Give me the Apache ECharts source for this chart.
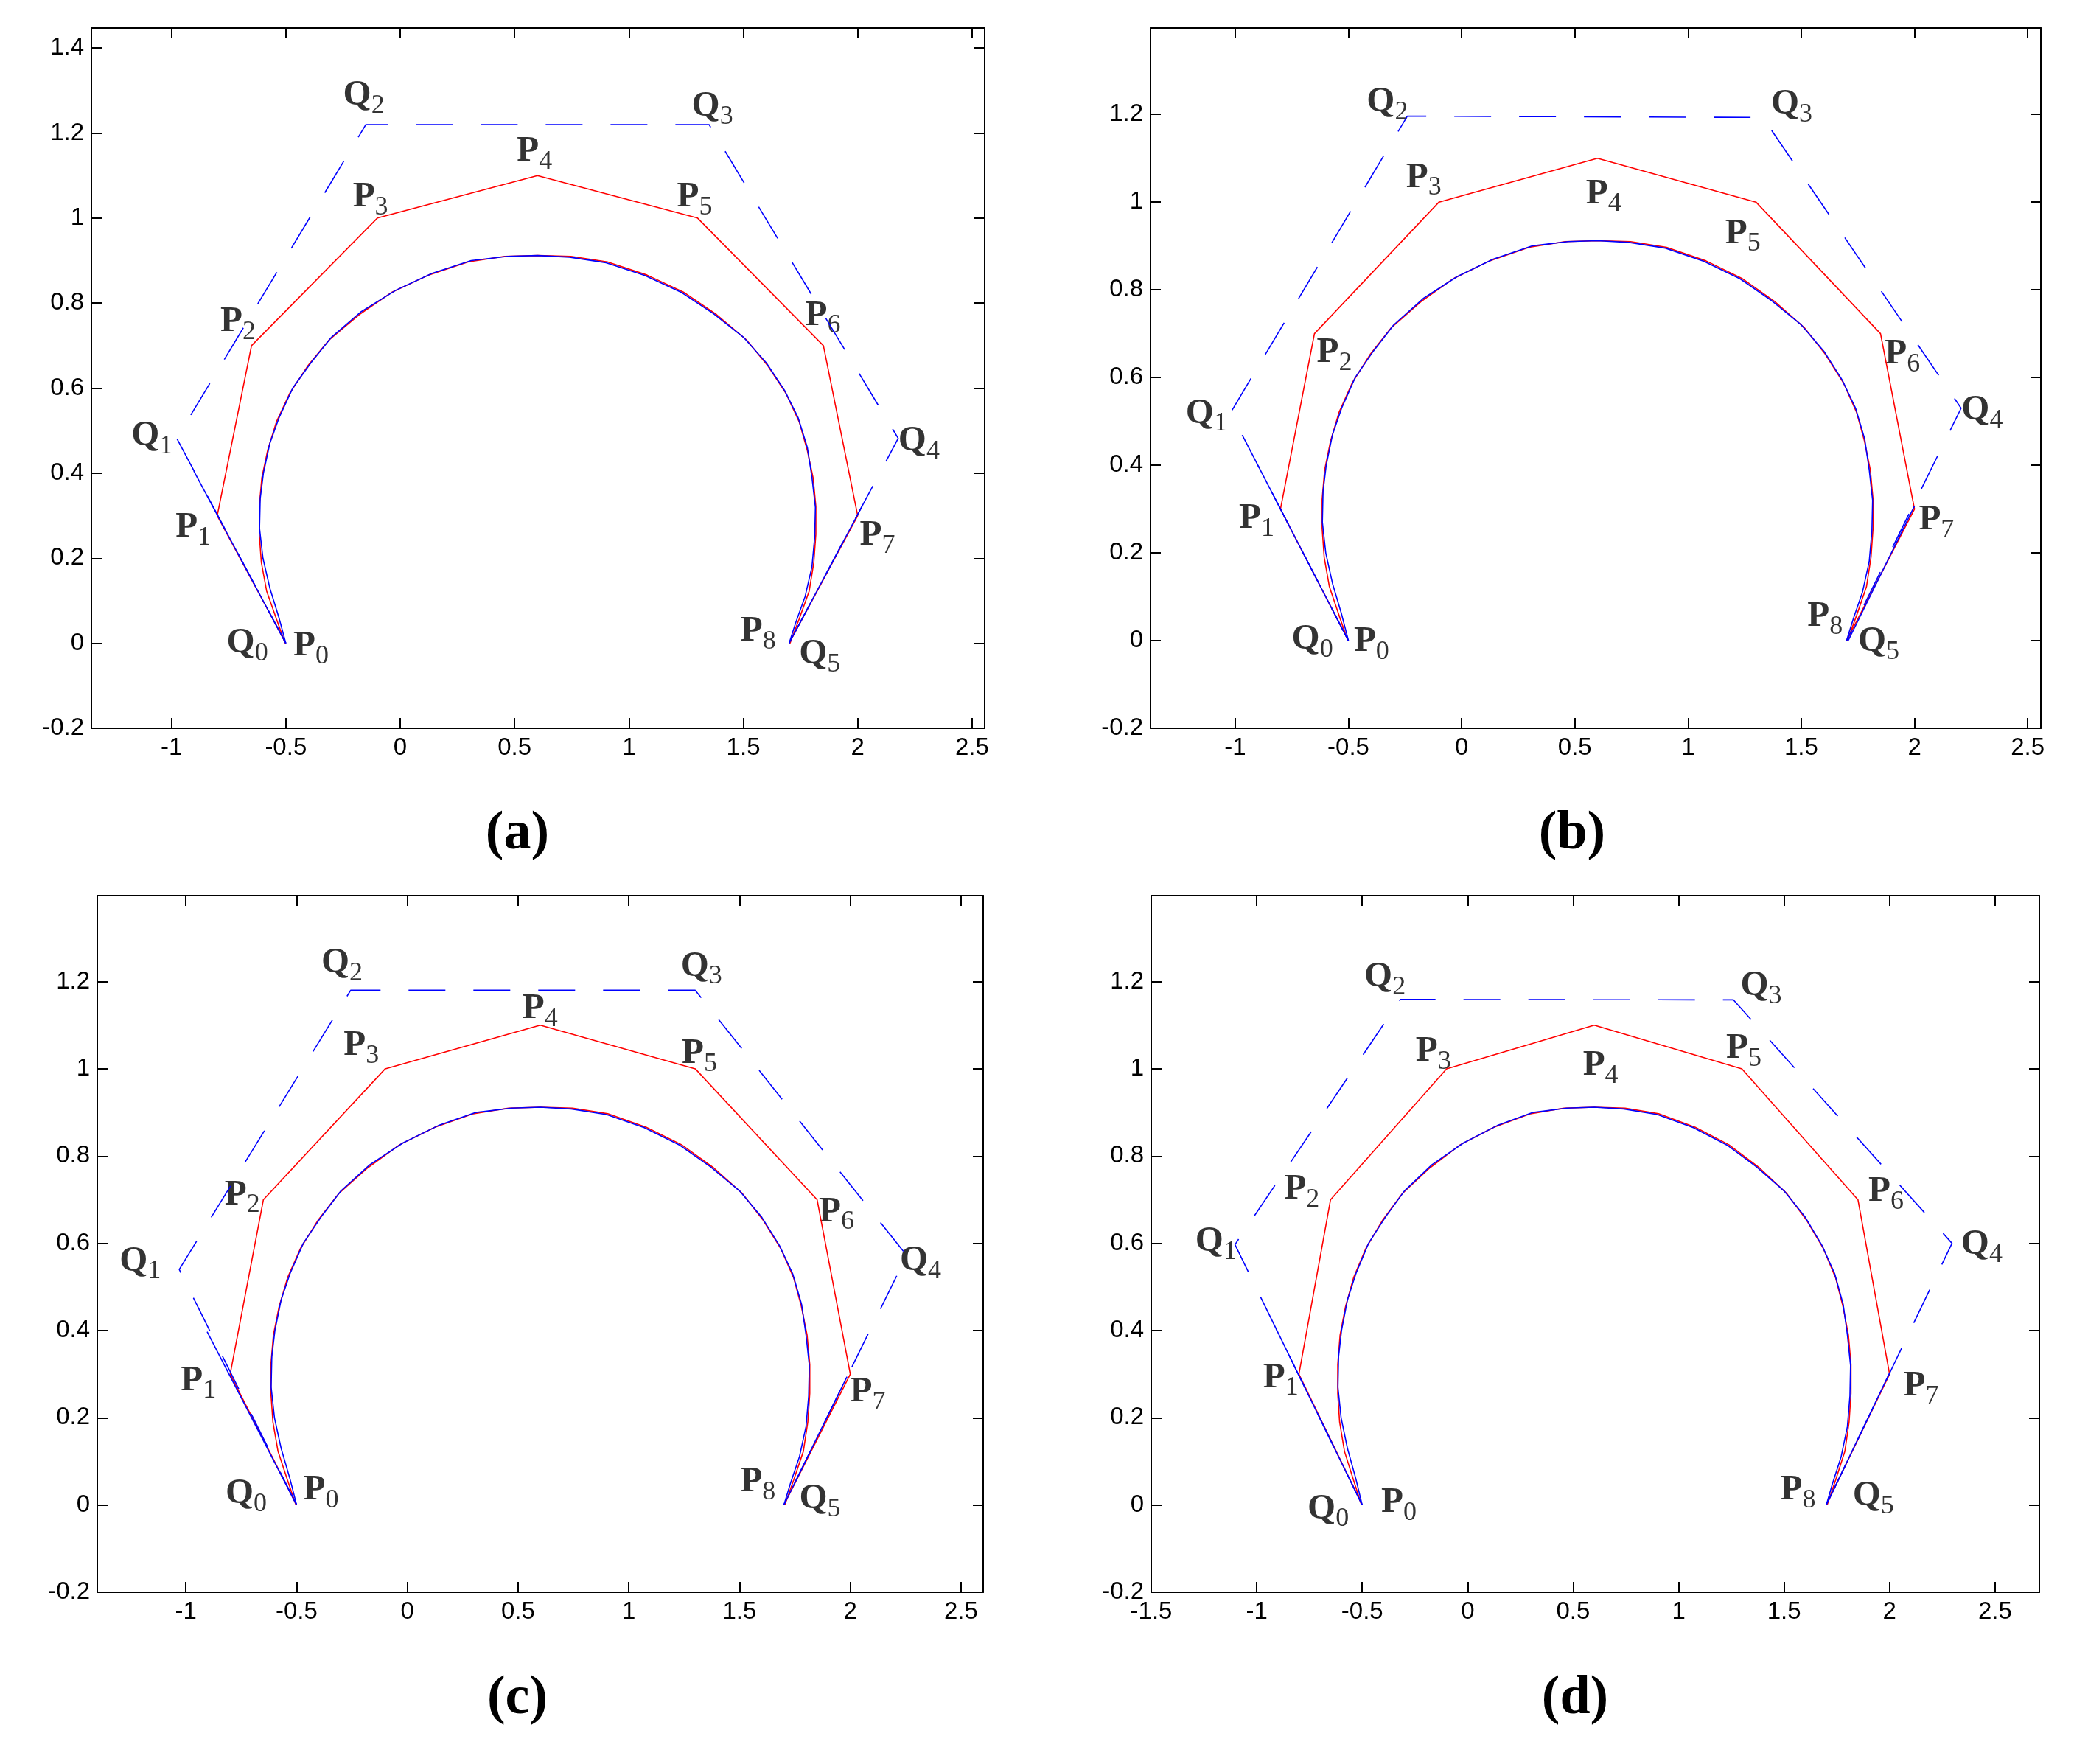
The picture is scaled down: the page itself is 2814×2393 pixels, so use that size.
<!DOCTYPE html>
<html>
<head>
<meta charset="utf-8">
<script src="https://cdn.jsdelivr.net/npm/echarts@6/dist/echarts.min.js"></script>
<style>
  html, body { margin: 0; padding: 0; background: #fff; }
  #chart { width: 2814px; height: 2393px; }
</style>
</head>
<body>
<div id="chart"></div>
<script>
// control polygon P0..P8 (same in all four panels)
const pX = [-0.5, -0.8, -0.65, -0.1, 0.6, 1.3, 1.85, 2.0, 1.7];
const pY = [0, 0.3, 0.7, 1.0, 1.1, 1.0, 0.7, 0.3, 0];

// control polygon Q0..Q5, one per panel
const qXA = [-0.5, -0.977, -0.15, 1.35, 2.177, 1.7];
const qYA = [0, 0.482, 1.22, 1.22, 0.482, 0];
const qXB = [-0.5, -1.02, -0.24, 1.33, 2.206, 1.7];
const qYB = [0, 0.52, 1.196, 1.193, 0.53, 0];
const qXC = [-0.5, -1.03, -0.256, 1.30, 2.255, 1.7];
const qYC = [0, 0.54, 1.18, 1.18, 0.572, 0];
const qXD = [-0.5, -1.103, -0.319, 1.26, 2.296, 1.7];
const qYD = [0, 0.597, 1.159, 1.158, 0.60, 0];

// solid blue pieces at both ends of the Q polygon
const leadXA = [-0.5, -0.902], leadYA = [0, 0.405], tailXA = [1.7, 2.019], tailYA = [0, 0.322];
const leadXB = [-0.5, -0.899], leadYB = [0, 0.399], tailXB = [1.707, 2.0], tailYB = [0, 0.307];
const leadXC = [-0.5, -0.904], leadYC = [0, 0.397], tailXC = [1.7, 1.985], tailYC = [0, 0.294];
const leadXD = [-0.5, -0.908], leadYD = [0, 0.404], tailXD = [1.7, 1.998], tailYD = [0, 0.301];

// the two curves (red and blue), nearly on top of each other
const redCurveX = [-0.503, -0.541, -0.584, -0.607, -0.616, -0.616, -0.605, -0.579, -0.541, -0.483, -0.402, -0.310,
  -0.179, -0.035, 0.124, 0.298, 0.457, 0.602, 0.746, 0.905, 1.079, 1.238, 1.383, 1.513, 1.605, 1.686, 1.744,
  1.779, 1.805, 1.817, 1.817, 1.808, 1.788, 1.744, 1.704];
const redCurveY = [0, 0.057, 0.123, 0.190, 0.256, 0.322, 0.389, 0.455, 0.521, 0.588, 0.654, 0.714,
  0.773, 0.826, 0.866, 0.897, 0.910, 0.912, 0.910, 0.897, 0.866, 0.826, 0.773, 0.714, 0.654, 0.588, 0.521,
  0.455, 0.389, 0.322, 0.256, 0.190, 0.123, 0.057, 0];
const blueCurveX = [-0.5, -0.53, -0.57, -0.60, -0.615, -0.612, -0.598, -0.57, -0.53, -0.47, -0.39, -0.30,
  -0.17, -0.02, 0.14, 0.31, 0.47, 0.60, 0.74, 0.90, 1.07, 1.23, 1.37, 1.50, 1.60, 1.68, 1.74,
  1.78, 1.80, 1.815, 1.812, 1.80, 1.77, 1.73, 1.7];
const blueCurveY = [0, 0.06, 0.13, 0.20, 0.27, 0.34, 0.40, 0.47, 0.53, 0.60, 0.66, 0.72,
  0.78, 0.83, 0.87, 0.90, 0.91, 0.912, 0.908, 0.895, 0.865, 0.825, 0.775, 0.72, 0.66, 0.595, 0.53,
  0.46, 0.39, 0.32, 0.25, 0.18, 0.11, 0.05, 0];

// tick values
const xTicks = [-1, -0.5, 0, 0.5, 1, 1.5, 2, 2.5];
const xTicksD = [-1.5, -1, -0.5, 0, 0.5, 1, 1.5, 2, 2.5];
const yTicksA = [-0.2, 0, 0.2, 0.4, 0.6, 0.8, 1, 1.2, 1.4];
const yTicks = [-0.2, 0, 0.2, 0.4, 0.6, 0.8, 1, 1.2];

// label subscripts and where each label sits (data coords)
const pNames = ['0', '1', '2', '3', '4', '5', '6', '7', '8'];
const qNames = ['0', '1', '2', '3', '4', '5'];
const pLabA = [[-0.39, -0.007], [-0.905, 0.273], [-0.709, 0.756], [-0.13, 1.049], [0.587, 1.157], [1.287, 1.049], [1.848, 0.771], [2.086, 0.253], [1.565, 0.028]];
const qLabA = [[-0.668, 0], [-1.085, 0.488], [-0.159, 1.289], [1.365, 1.263], [2.268, 0.475], [1.834, -0.025]];
const pLabB = [[-0.398, -0.003], [-0.905, 0.278], [-0.562, 0.656], [-0.167, 1.056], [0.627, 1.019], [1.242, 0.928], [1.947, 0.653], [2.097, 0.275], [1.605, 0.055]];
const qLabB = [[-0.659, 0.003], [-1.127, 0.518], [-0.328, 1.228], [1.458, 1.223], [2.299, 0.525], [1.842, -0.003]];
const pLabC = [[-0.39, 0.034], [-0.943, 0.285], [-0.745, 0.711], [-0.208, 1.053], [0.599, 1.138], [1.319, 1.035], [1.938, 0.672], [2.079, 0.259], [1.583, 0.053]];
const qLabC = [[-0.728, 0.026], [-1.206, 0.559], [-0.295, 1.243], [1.328, 1.235], [2.317, 0.56], [1.863, 0.014]];
const pLabD = [[-0.326, 0.005], [-0.886, 0.292], [-0.786, 0.724], [-0.163, 1.04], [0.63, 1.008], [1.309, 1.046], [1.983, 0.719], [2.149, 0.272], [1.566, 0.034]];
const qLabD = [[-0.661, -0.009], [-1.193, 0.604], [-0.392, 1.21], [1.391, 1.19], [2.437, 0.597], [1.923, 0.021]];

const zip = (xs, ys) => xs.map((x, i) => [x, ys[i]]);
const named = (pos, names) => pos.map((p, i) => ({ value: p, name: names[i] }));
const fmt = v => String(Math.round(v * 10) / 10);

const panels = [
  { caption: '(a)', cx: 702, cy: 1132, left: 124, top: 38, width: 1212, height: 950,
    xMin: -1.35, xMax: 2.555, yMax: 1.447, xt: xTicks, yt: yTicksA,
    qX: qXA, qY: qYA, lead: zip(leadXA, leadYA), tail: zip(tailXA, tailYA), pLab: pLabA, qLab: qLabA },
  { caption: '(b)', cx: 2133, cy: 1132, left: 1561, top: 38, width: 1208, height: 950,
    xMin: -1.374, xMax: 2.558, yMax: 1.397, xt: xTicks, yt: yTicks,
    qX: qXB, qY: qYB, lead: zip(leadXB, leadYB), tail: zip(tailXB, tailYB), pLab: pLabB, qLab: qLabB },
  { caption: '(c)', cx: 702, cy: 2305, left: 132, top: 1215, width: 1202, height: 945,
    xMin: -1.4, xMax: 2.6, yMax: 1.397, xt: xTicks, yt: yTicks,
    qX: qXC, qY: qYC, lead: zip(leadXC, leadYC), tail: zip(tailXC, tailYC), pLab: pLabC, qLab: qLabC },
  { caption: '(d)', cx: 2137, cy: 2305, left: 1562, top: 1215, width: 1205, height: 945,
    xMin: -1.5, xMax: 2.71, yMax: 1.397, xt: xTicksD, yt: yTicks,
    qX: qXD, qY: qYD, lead: zip(leadXD, leadYD), tail: zip(tailXD, tailYD), pLab: pLabD, qLab: qLabD }
];

const RED = '#ff0000', BLUE = '#0000ff';
const axisLine = { show: true, onZero: false, lineStyle: { color: '#000', width: 2 } };
const tickStyle = { color: '#000', width: 2 };
const labelFont = { fontFamily: 'Liberation Sans', fontSize: 33, color: '#000' };
const rich = {
  m: { fontFamily: 'Liberation Serif', fontWeight: 'bold', fontSize: 49, lineHeight: 64, color: '#000', verticalAlign: 'middle' },
  s: { fontFamily: 'Liberation Serif', fontSize: 36, lineHeight: 36, padding: [28, 0, 0, 0], color: '#000', verticalAlign: 'middle' }
};

const option = { animation: false, backgroundColor: '#fff', grid: [], xAxis: [], yAxis: [], series: [], graphic: [] };

function line(i, data, color, width, type) {
  return {
    type: 'line', xAxisIndex: 2 * i, yAxisIndex: 2 * i, data: data,
    showSymbol: false, symbol: 'none', silent: true,
    lineStyle: { color: color, width: width, type: type || 'solid' }
  };
}

function labels(i, data, letter) {
  return {
    type: 'scatter', xAxisIndex: 2 * i, yAxisIndex: 2 * i, data: data,
    symbolSize: 1, itemStyle: { color: 'rgba(0,0,0,0)' }, silent: true,
    label: {
      show: true, position: 'inside', align: 'center', verticalAlign: 'middle',
      color: '#000', textBorderWidth: 0,
      formatter: p => '{m|' + letter + '}{s|' + p.name + '}', rich: rich
    }
  };
}

panels.forEach((p, i) => {
  option.grid.push({ left: p.left, top: p.top, width: p.width, height: p.height });

  option.xAxis.push({
    type: 'value', gridIndex: i, position: 'bottom', min: p.xMin, max: p.xMax,
    axisLine: axisLine, splitLine: { show: false },
    axisTick: { show: true, inside: true, length: 14, lineStyle: tickStyle, customValues: p.xt },
    axisLabel: Object.assign({ customValues: p.xt, formatter: fmt, margin: 10 }, labelFont)
  });
  option.xAxis.push({
    type: 'value', gridIndex: i, position: 'top', min: p.xMin, max: p.xMax,
    axisLine: axisLine, splitLine: { show: false },
    axisTick: { show: true, inside: true, length: 14, lineStyle: tickStyle, customValues: p.xt },
    axisLabel: { show: false }
  });
  option.yAxis.push({
    type: 'value', gridIndex: i, position: 'left', min: -0.2, max: p.yMax,
    axisLine: axisLine, splitLine: { show: false },
    axisTick: { show: true, inside: true, length: 14, lineStyle: tickStyle, customValues: p.yt },
    axisLabel: Object.assign({ customValues: p.yt, formatter: fmt, margin: 10 }, labelFont)
  });
  option.yAxis.push({
    type: 'value', gridIndex: i, position: 'right', min: -0.2, max: p.yMax,
    axisLine: axisLine, splitLine: { show: false },
    axisTick: { show: true, inside: true, length: 14, lineStyle: tickStyle, customValues: p.yt },
    axisLabel: { show: false }
  });

  option.series.push(
    line(i, zip(pX, pY), RED, 1.6),
    line(i, zip(redCurveX, redCurveY), RED, 1.6),
    line(i, zip(blueCurveX, blueCurveY), BLUE, 1.6),
    line(i, zip(p.qX, p.qY), BLUE, 1.6, [50, 38]),
    line(i, p.lead, BLUE, 1.6),
    line(i, p.tail, BLUE, 1.6),
    labels(i, named(p.pLab, pNames), 'P'),
    labels(i, named(p.qLab, qNames), 'Q')
  );

  option.graphic.push({
    type: 'text', x: p.cx, y: p.cy, silent: true,
    style: {
      text: p.caption, font: 'bold 74px "Liberation Serif"', fill: '#000',
      align: 'center', verticalAlign: 'middle', textAlign: 'center', textVerticalAlign: 'middle'
    }
  });
});

const chart = echarts.init(document.getElementById('chart'), null, { renderer: 'canvas' });
chart.setOption(option);
</script>
</body>
</html>
